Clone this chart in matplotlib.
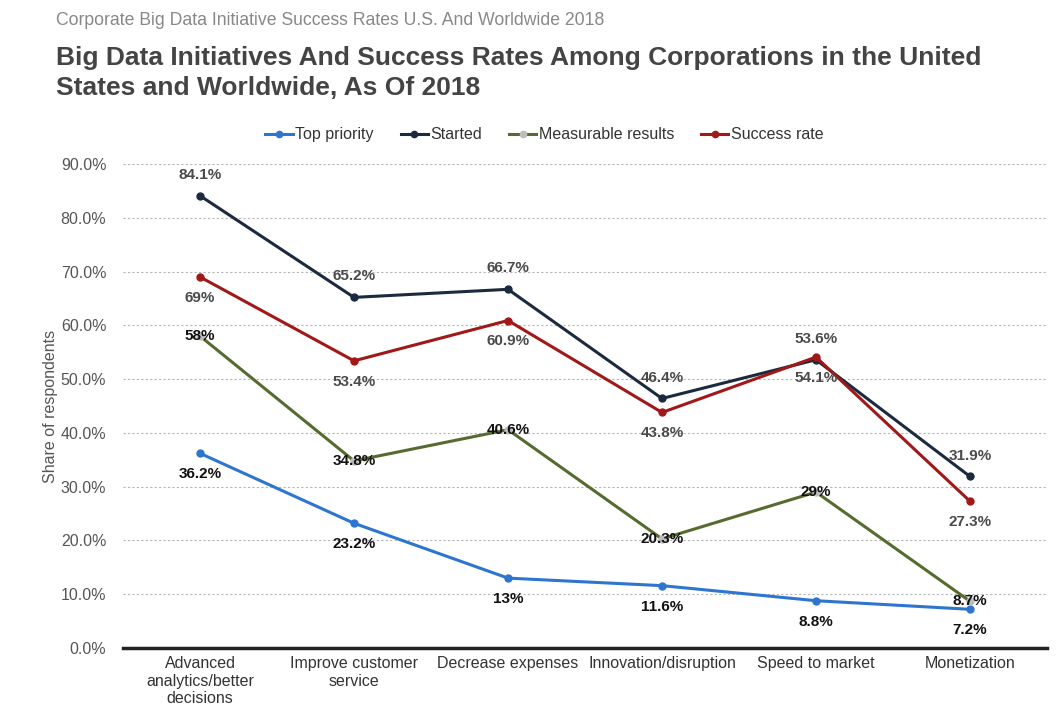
import matplotlib.pyplot as plt
from matplotlib.ticker import FuncFormatter

categories = ["Advanced\nanalytics/better\ndecisions", "Improve customer\nservice",
              "Decrease expenses", "Innovation/disruption", "Speed to market", "Monetization"]
top_priority = [36.2, 23.2, 13, 11.6, 8.8, 7.2]
started = [84.1, 65.2, 66.7, 46.4, 53.6, 31.9]
measurable = [58, 34.8, 40.6, 20.3, 29, 8.7]
success = [69, 53.4, 60.9, 43.8, 54.1, 27.3]


def fmt(v):
    return f"{v:g}%"


def main():
    plt.rcParams["font.family"] = ["Liberation Sans", "DejaVu Sans"]
    fig = plt.figure(figsize=(10.57, 7.19), dpi=100)
    ax = fig.add_axes([0.1164, 0.0987, 0.8741, 0.6732])
    x = list(range(len(categories)))

    series = [
        ("Top priority", top_priority, "#2e75d0", "#2e75d0", "#111111", "below"),
        ("Started", started, "#1b2a3e", "#1b2a3e", "#4a4a4a", "above"),
        ("Measurable results", measurable, "#566b2f", "#bdbdbd", "#111111", "center"),
        ("Success rate", success, "#a01818", "#a01818", "#4a4a4a", "below"),
    ]
    for name, vals, col, mcol, lcol, pos in series:
        ax.plot(x, vals, color=col, lw=2.2, marker="o", markersize=5,
                markerfacecolor=mcol, markeredgecolor=mcol, label=name, zorder=3)
        for xi, v in zip(x, vals):
            if pos == "above":
                ax.annotate(fmt(v), (xi, v), xytext=(0, 10), textcoords="offset points",
                            ha="center", va="bottom", fontsize=11, fontweight="bold", color=lcol, zorder=5)
            elif pos == "below":
                ax.annotate(fmt(v), (xi, v), xytext=(0, -10), textcoords="offset points",
                            ha="center", va="top", fontsize=11, fontweight="bold", color=lcol, zorder=5)
            else:
                ax.annotate(fmt(v), (xi, v), xytext=(0, 0), textcoords="offset points",
                            ha="center", va="center", fontsize=11, fontweight="bold", color=lcol, zorder=5)

    ax.set_xlim(-0.5, len(categories) - 0.5)
    ax.set_ylim(0, 90)
    ax.set_yticks(range(0, 91, 10))
    ax.yaxis.set_major_formatter(FuncFormatter(lambda v, p: f"{v:.1f}%"))
    ax.set_xticks(x)
    ax.set_xticklabels(categories, fontsize=11.5, color="#333333")
    ax.tick_params(axis="y", length=0, labelsize=11.5, labelcolor="#555555", pad=12)
    ax.tick_params(axis="x", length=0, pad=6)
    ax.grid(axis="y", linestyle=(0, (2, 2)), color="#b5b5b5", lw=0.8)
    ax.set_axisbelow(True)
    for s in ["top", "right", "left"]:
        ax.spines[s].set_visible(False)
    ax.spines["bottom"].set_color("#222222")
    ax.spines["bottom"].set_linewidth(2.5)
    ax.set_ylabel("Share of respondents", fontsize=11.5, color="#555555", labelpad=2)

    ax.legend(loc="center", bbox_to_anchor=(0.456, 1.06), ncol=4, frameon=False,
              fontsize=11.5, handlelength=1.7, handletextpad=0.15, columnspacing=1.7,
              markerscale=0.9, labelcolor="#333333")

    fig.text(0.053, 0.972, "Corporate Big Data Initiative Success Rates U.S. And Worldwide 2018",
             fontsize=12.7, color="#888888", va="center")
    fig.text(0.053, 0.8985, "Big Data Initiatives And Success Rates Among Corporations in the United\nStates and Worldwide, As Of 2018",
             fontsize=19, fontweight="bold", color="#444444", va="center", linespacing=1.35)

    fig.savefig("out.png", dpi=100)


if __name__ == "__main__":
    main()
